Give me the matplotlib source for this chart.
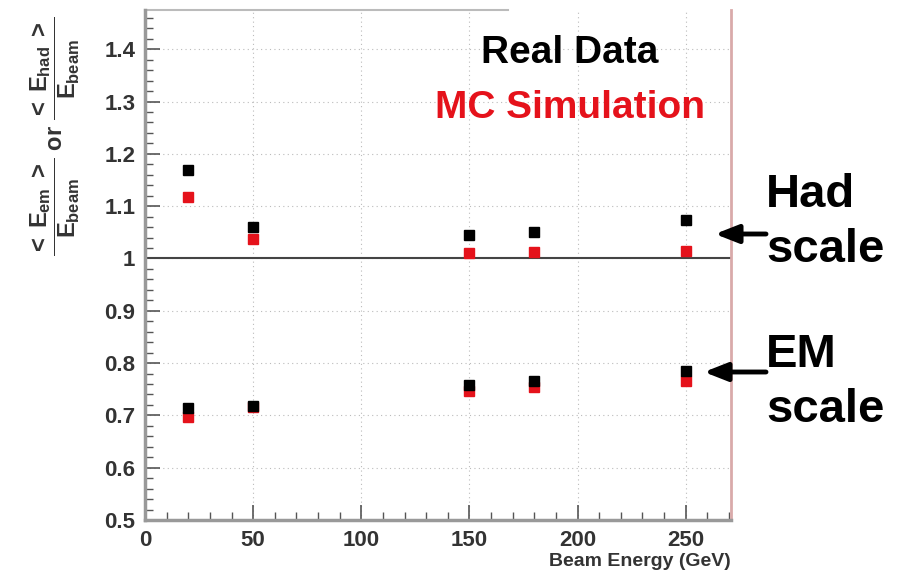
import numpy as np
import matplotlib
matplotlib.use('Agg')
import matplotlib.pyplot as plt
from matplotlib.ticker import MultipleLocator

plt.rcParams['font.family'] = ['Liberation Sans', 'DejaVu Sans']
plt.rcParams['mathtext.fontset'] = 'custom'
plt.rcParams['mathtext.rm'] = 'Liberation Sans:bold'
plt.rcParams['mathtext.it'] = 'Liberation Sans:bold'
plt.rcParams['mathtext.bf'] = 'Liberation Sans:bold'

# beam energies (GeV)
energies = [20, 50, 150, 180, 250]

# hadronic scale ratios
had_data = [1.169, 1.060, 1.044, 1.050, 1.073]
had_mc = [1.117, 1.038, 1.010, 1.012, 1.015]

# em scale ratios
em_data = [0.715, 0.717, 0.758, 0.765, 0.785]
em_mc = [0.696, 0.716, 0.746, 0.754, 0.765]

red = '#e5121b'
gray = '#555555'

W, H = 903, 573
fig = plt.figure(figsize=(9.03, 5.73), dpi=100)
ax = fig.add_axes([0.1606, 0.0925, 0.649, 0.89])

ax.set_xlim(0, 271)
ax.set_ylim(0.5, 1.475)

ax.grid(True, which='major', color='#bbbbbb', linestyle=(0, (1, 3)), linewidth=0.8)
ax.axhline(1.0, color='#444444', linewidth=1.5, zorder=2)

ax.plot(energies, had_data, 's', color='black', markersize=6.5, zorder=4)
ax.plot(energies, had_mc, 's', color=red, markersize=6.5, zorder=3)
ax.plot(energies, em_mc, 's', color=red, markersize=6.5, zorder=3)
ax.plot(energies, em_data, 's', color='black', markersize=6.5, zorder=4)

ax.xaxis.set_major_locator(MultipleLocator(50))
ax.xaxis.set_minor_locator(MultipleLocator(10))
ax.yaxis.set_minor_locator(MultipleLocator(0.02))
ax.set_yticks([0.5, 0.6, 0.7, 0.8, 0.9, 1.0, 1.1, 1.2, 1.3, 1.4])
ax.set_yticklabels(['0.5', '0.6', '0.7', '0.8', '0.9', '1', '1.1', '1.2', '1.3', '1.4'])

ax.tick_params(which='both', direction='in', color=gray, top=False, right=False)
ax.tick_params(which='major', length=11, width=1.2, labelsize=16, labelcolor='#333333')
ax.tick_params(which='minor', length=6, width=1)
ax.tick_params(axis='x', which='major', pad=7)
ax.tick_params(axis='y', which='major', pad=7)
for lab in ax.get_xticklabels() + ax.get_yticklabels():
    lab.set_fontweight('bold')

ax.spines['left'].set_color('#999999')
ax.spines['left'].set_linewidth(2.5)
ax.spines['bottom'].set_color('#999999')
ax.spines['bottom'].set_linewidth(2.5)
ax.spines['right'].set_color('#d9aaaa')
ax.spines['right'].set_linewidth(2)
ax.spines['top'].set_visible(False)
ax.plot([0, 0.62], [1, 1], transform=ax.transAxes, color='#bbbbbb', linewidth=1.5, clip_on=False)

ax.set_xlabel('Beam Energy (GeV)', fontsize=14, fontweight='bold', color='#333333')
ax.xaxis.set_label_coords(1.0, -0.065)
ax.xaxis.label.set_horizontalalignment('right')

ax.set_ylabel(r'$\dfrac{<\;E_{em}\;>}{E_{beam}}$ or $\dfrac{<\;E_{had}\;>}{E_{beam}}$',
              fontsize=17, fontweight='bold', color='#333333')
ax.yaxis.set_label_coords(-0.107, 0.753)

fig.text(570 / W, 1 - 63 / H, 'Real Data', fontsize=28, fontweight='bold',
         color='black', ha='center', va='baseline')
fig.text(570 / W, 1 - 118 / H, 'MC Simulation', fontsize=28, fontweight='bold',
         color=red, ha='center', va='baseline')

fig.text(766 / W, 1 - 207 / H, 'Had', fontsize=34, fontweight='bold',
         ha='left', va='baseline')
fig.text(766 / W, 1 - 262 / H, 'scale', fontsize=34, fontweight='bold',
         ha='left', va='baseline')
fig.text(766 / W, 1 - 367 / H, 'EM', fontsize=34, fontweight='bold',
         ha='left', va='baseline')
fig.text(766 / W, 1 - 422 / H, 'scale', fontsize=34, fontweight='bold',
         ha='left', va='baseline')

arrow = dict(arrowstyle='-|>,head_length=1.4,head_width=0.55', color='black', lw=3.5,
             shrinkA=0, shrinkB=0)
ax.annotate('', xy=(715 / W, 1 - 234 / H), xytext=(766 / W, 1 - 234 / H),
            xycoords='figure fraction', textcoords='figure fraction',
            annotation_clip=False, arrowprops=arrow)
ax.annotate('', xy=(704 / W, 1 - 372 / H), xytext=(766 / W, 1 - 372 / H),
            xycoords='figure fraction', textcoords='figure fraction',
            annotation_clip=False, arrowprops=arrow)

fig.savefig('out.png', dpi=100)
